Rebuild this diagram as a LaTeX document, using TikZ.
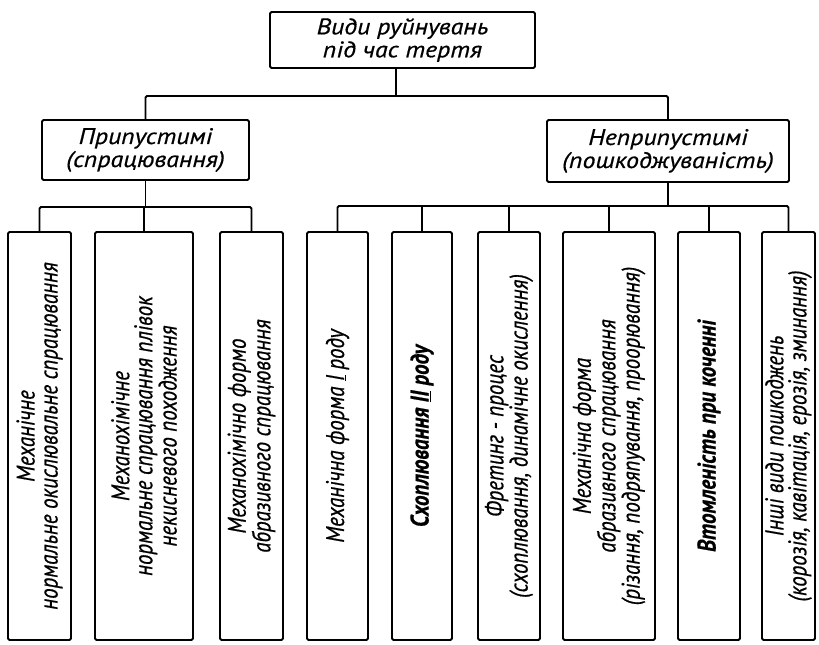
\documentclass[tikz,border=0pt]{standalone}
\usepackage{fontspec}
\setmainfont{PT Sans}
% wide lettering for the horizontal boxes, narrow lettering for the upright columns
\newfontfamily\handw{PT Sans}[FakeStretch=1.15, FakeBold=0.6]
\newfontfamily\handn{PT Sans}[FakeStretch=0.82, FakeBold=0.6]
\begin{document}
\begin{tikzpicture}[x=1pt,y=-1pt,
  box/.style={draw, line width=1.8pt, rounded corners=1.5pt, align=center,
    inner sep=0pt, font=\handw\itshape\fontsize{22.5}{23}\selectfont},
  vbox/.style={box, rotate=90, minimum width=408pt,
    font=\handn\itshape\fontsize{25.5}{23}\selectfont},
  heavy/.style={font=\handn\bfseries\itshape\fontsize{25.5}{23}\selectfont},
  wire/.style={line width=1.8pt, rounded corners=1.5pt}]
\useasboundingbox (0,0) rectangle (819,645);

% root
\node[box, minimum width=265pt, minimum height=56pt] (top) at (402.5,40)
  {Види руйнувань\\під час тертя};

% second level
\node[box, minimum width=207pt, minimum height=60pt] (mL) at (145.5,150)
  {Припустимі\\(спрацювання)};
\node[box, minimum width=242pt, minimum height=62pt] (mR) at (668,151)
  {Неприпустимі\\(пошкоджуваність)};

% leaves, admissible wear
\node[vbox, minimum height=63pt] (b1) at (39.5,436)
  {Механічне\\нормальне окислювальне спрацювання};
\node[vbox, minimum height=98pt] (b2) at (144,436)
  {Механохімічне\\нормальне спрацювання плівок\\некисневого походження};
\node[vbox, minimum height=63pt] (b3) at (251.5,436)
  {Механохімічно формо\\абразивного спрацювання};

% leaves, inadmissible damage
\node[vbox, minimum height=61pt] (b4) at (337.5,436)
  {Механічна форма \underline{I} роду};
\node[vbox, heavy, minimum height=60pt] (b5) at (422,436)
  {Схоплювання \underline{II} роду};
\node[vbox, minimum height=62pt] (b6) at (509,436)
  {Фретинг - процес\\(схоплювання, динамічне окислення)};
\node[vbox, minimum height=92pt] (b7) at (609,436)
  {Механічна форма\\абразивного спрацювання\\(різання, подряпування, проорювання)};
\node[vbox, heavy, minimum height=62pt] (b8) at (709,436)
  {Втомленість при коченні};
\node[vbox, minimum height=53pt] (b9) at (788.5,436)
  {Інші види пошкоджень\\(корозія, кавітація, ерозія, зминання)};

% connectors
\coordinate (jT) at (396,96);
\coordinate (jL) at (145.5,207);
\coordinate (jR) at (668,206);

\draw[wire] (jT |- top.south) -- (jT);
\draw[wire] (mL.north) |- (jT) -| (mR.north);

\draw[wire] (mL.south) -- (jL);
\draw[wire] (b1.east) |- (jL) -| (b3.east);
\draw[wire] (b2.east) -- (b2.east |- jL);

\draw[wire] (mR.south) -- (jR);
\draw[wire] (b4.east) |- (jR) -| (b9.east);
\foreach \b in {b5,b6,b7,b8}
  \draw[wire] (\b.east) -- (\b.east |- jR);
\end{tikzpicture}
\end{document}
